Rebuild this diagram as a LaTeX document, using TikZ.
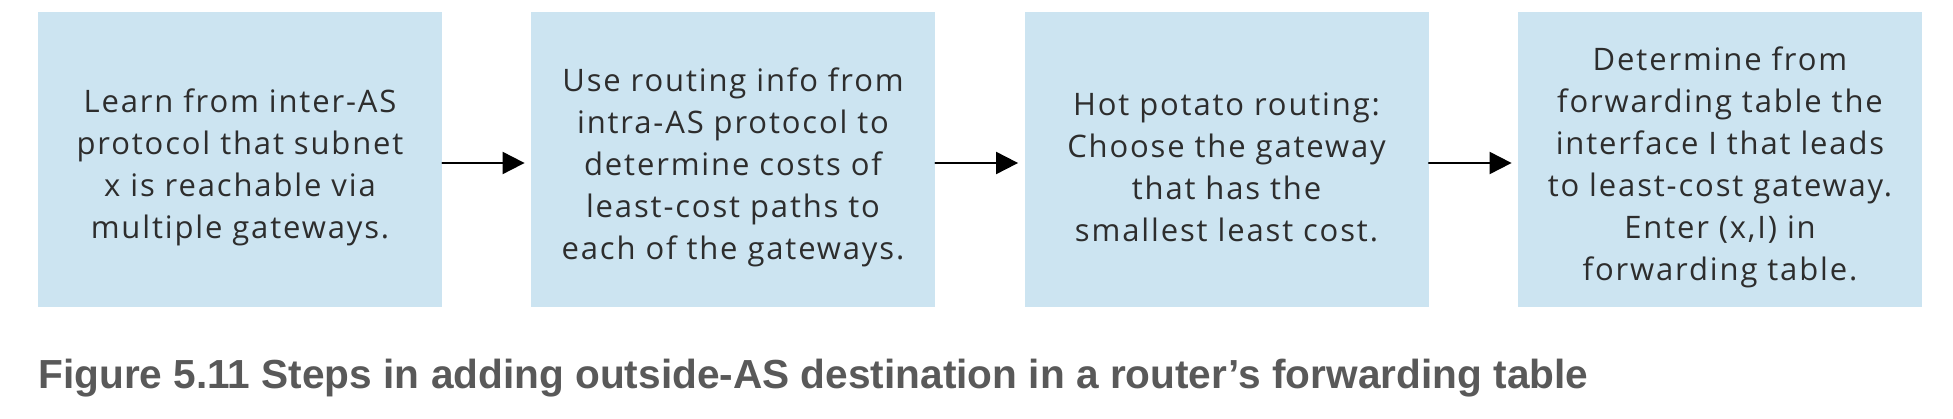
\documentclass[tikz,border=0pt]{standalone}
\usepackage{fontspec}
\setmainfont{Open Sans}
\newfontfamily\boxfont[LetterSpace=6]{Open Sans}
\newfontfamily\capfont{Liberation Sans}
\usepackage{xcolor}
\usetikzlibrary{arrows.meta}
\definecolor{boxblue}{RGB}{204,228,241}
\definecolor{txtgray}{RGB}{45,45,45}
\definecolor{capgray}{RGB}{89,89,89}
\begin{document}
\begin{tikzpicture}[x=0.5pt,y=0.5pt,line cap=round,line join=round,>={Triangle[length=11pt,width=11pt]},
    stepbox/.style={fill=boxblue,minimum width=202pt,minimum height=147.5pt,inner sep=0pt},
    steptext/.style={align=center,inner sep=0pt,text=txtgray,font=\boxfont\fontsize{15.5}{21}\selectfont}]
        \useasboundingbox (0,0) rectangle (1953,418);
        \foreach \n/\x in {b1/240,b2/733,b3/1226.5,b4/1720}
        \node[stepbox] (\n) at (\x,258.5) {};
        \node[steptext] (t1) at (240,250.5) {Learn from inter-AS\\protocol that subnet\\x is reachable via\\multiple gateways.};
        \node[steptext] (t2) at (733,250.5) {Use routing info from\\intra-AS protocol to\\determine costs of\\least-cost paths to\\each of the gateways.};
        \node[steptext] (t3) at (1226.5,250.5) {Hot potato routing:\\Choose the gateway\\that has the\\smallest least cost.};
        \node[steptext] (t4) at (1720,250.5) {Determine from\\forwarding table the\\interface I that leads\\to least-cost gateway.\\Enter (x,I) in\\forwarding table.};
        \foreach \a/\b in {b1/b2,b2/b3,b3/b4}
        \draw[->,color=black,line width=1pt,shorten >=3pt] ([yshift=-1.75pt]\a.east) -- ([yshift=-1.75pt]\b.west);
        \node[anchor=base west,inner sep=0pt,text=capgray,font=\capfont\bfseries\fontsize{20.3}{24}\selectfont] (cap) at (38,30)
          {Figure 5.11 Steps in adding outside-AS destination in a router’s forwarding table};
      \end{tikzpicture}
\end{document}
